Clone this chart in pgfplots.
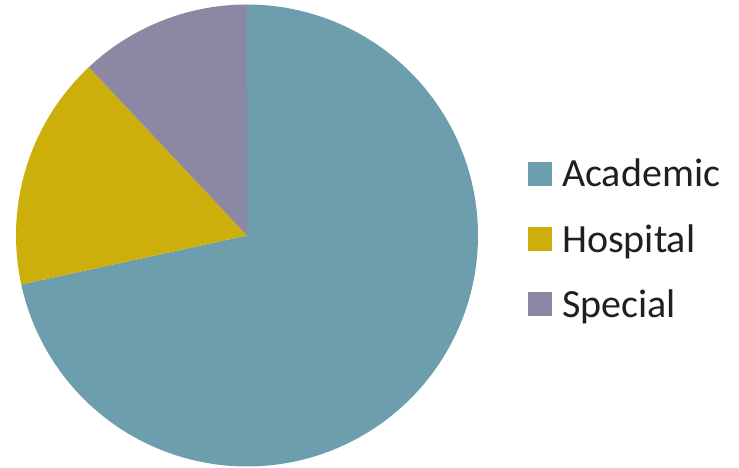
\documentclass[border=0pt]{standalone}
\usepackage{fontspec}
\setmainfont{Carlito}
\usepackage{pgfplots}
\pgfplotsset{compat=1.18}
\definecolor{acad}{HTML}{6C9EAE}
\definecolor{hosp}{HTML}{CDAF0B}
\definecolor{spec}{HTML}{8C87A3}
% shares (percent): Academic 71.6, Hospital 16.4, Special 12.0
% slices run clockwise from 90 degrees; 1 percent = 3.6 degrees
\begin{document}
\begin{tikzpicture}
\begin{axis}[
  x=1pt, y=1pt,
  xmin=0, xmax=739, ymin=0, ymax=468,
  hide axis, clip=false,
  legend cell align=left,
  legend style={draw=none, fill=none, at={(axis cs:528,310)}, anchor=north west,
    font=\fontsize{40}{40}\selectfont, text=black!88,
    row sep=34pt, inner sep=0pt, nodes={inner sep=1pt}},
  legend image code/.code={\fill[#1] (0pt,-12pt) rectangle (24pt,12pt); \path (33pt,0pt);},
]
\path (axis cs:0,0) rectangle (axis cs:739,468);
\addplot[fill=acad, draw=none, domain=90:-167.76, samples=180]
  ({247+231*cos(x)},{232.5+231*sin(x)}) -- (axis cs:247,232.5) -- cycle;
\addlegendentry{Academic}
\addplot[fill=hosp, draw=none, domain=-167.76:-226.8, samples=60]
  ({247+231*cos(x)},{232.5+231*sin(x)}) -- (axis cs:247,232.5) -- cycle;
\addlegendentry{Hospital}
\addplot[fill=spec, draw=none, domain=-226.8:-270, samples=50]
  ({247+231*cos(x)},{232.5+231*sin(x)}) -- (axis cs:247,232.5) -- cycle;
\addlegendentry{Special}
\end{axis}
\end{tikzpicture}
\end{document}
